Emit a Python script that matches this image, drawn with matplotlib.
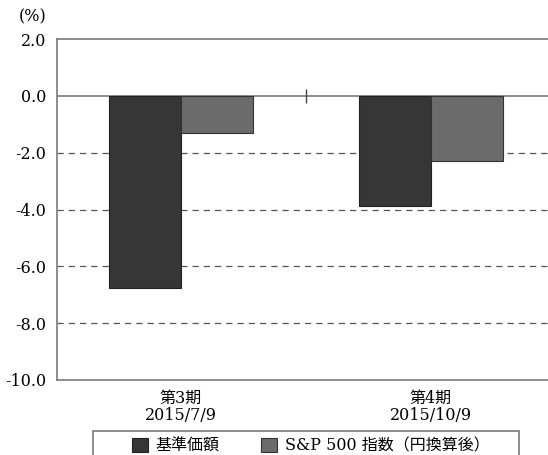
import numpy as np
import matplotlib.pyplot as plt
from matplotlib.patches import Rectangle

plt.rcParams['font.family'] = ['DejaVu Serif', 'Noto Sans CJK JP']

# データ
categories = ['第3期\n2015/7/9', '第4期\n2015/10/9']
fund = [-6.75, -3.86]
sp500 = [-1.30, -2.28]
series_names = ['基準価額', 'S&P 500 指数（円換算後）']
yticks = [2.0, 0.0, -2.0, -4.0, -6.0, -8.0, -10.0]

dark = '#363636'
gray = '#6b6b6b'
spine_c = '#7a7a7a'

fig = plt.figure(figsize=(5.48, 4.55), dpi=100)
ax = fig.add_axes([57 / 548, 75 / 455, 491 / 548, 341 / 455])

x = np.arange(len(categories))
w = 0.288
b1 = ax.bar(x - w / 2, fund, w, color=dark, edgecolor='#222222', linewidth=0.8,
            label=series_names[0], zorder=3)
b2 = ax.bar(x + w / 2, sp500, w, color=gray, edgecolor='#333333', linewidth=0.8,
            label=series_names[1], zorder=3)

ax.set_xlim(-0.496, 1.468)
ax.set_ylim(-10, 2)
ax.set_yticks(yticks)
ax.set_yticklabels(['%.1f' % v for v in yticks], fontsize=11.5)
ax.set_xticks(x)
ax.set_xticklabels(categories, fontsize=11.5, linespacing=1.0)
ax.tick_params(axis='y', length=0, pad=8)
ax.tick_params(axis='x', length=0, pad=7)

# 破線のグリッド
for v in yticks[2:-1]:
    ax.axhline(v, color='#555555', linestyle=(0, (5, 4)), linewidth=0.9, zorder=1)
ax.axhline(0, color=spine_c, linewidth=1.2, zorder=2)
# 中央の目盛り
mid = (x[0] + x[1]) / 2
ax.vlines(mid, -0.25, 0.25, color='#444444', linewidth=1.0, zorder=2)

for s in ['left', 'bottom', 'top']:
    ax.spines[s].set_color(spine_c)
    ax.spines[s].set_linewidth(1.2)
ax.spines['right'].set_visible(False)

fig.text(19 / 548, 1 - 17 / 455, '(%)', fontsize=11.5, va='center', ha='left')

leg = fig.legend(handles=[b1, b2], loc='center', ncol=2, frameon=False,
                 bbox_to_anchor=(311 / 548, 1 - 446 / 455), fontsize=11.5,
                 handlelength=1.0, handleheight=1.0, handletextpad=0.5,
                 columnspacing=2.6, borderpad=0, borderaxespad=0)
fig.patches.append(Rectangle((93 / 548, -0.05), 426 / 548, 0.05 + 24 / 455,
                             transform=fig.transFigure, fill=False,
                             edgecolor=spine_c, linewidth=1.2))

fig.savefig('out.png', dpi=100)
